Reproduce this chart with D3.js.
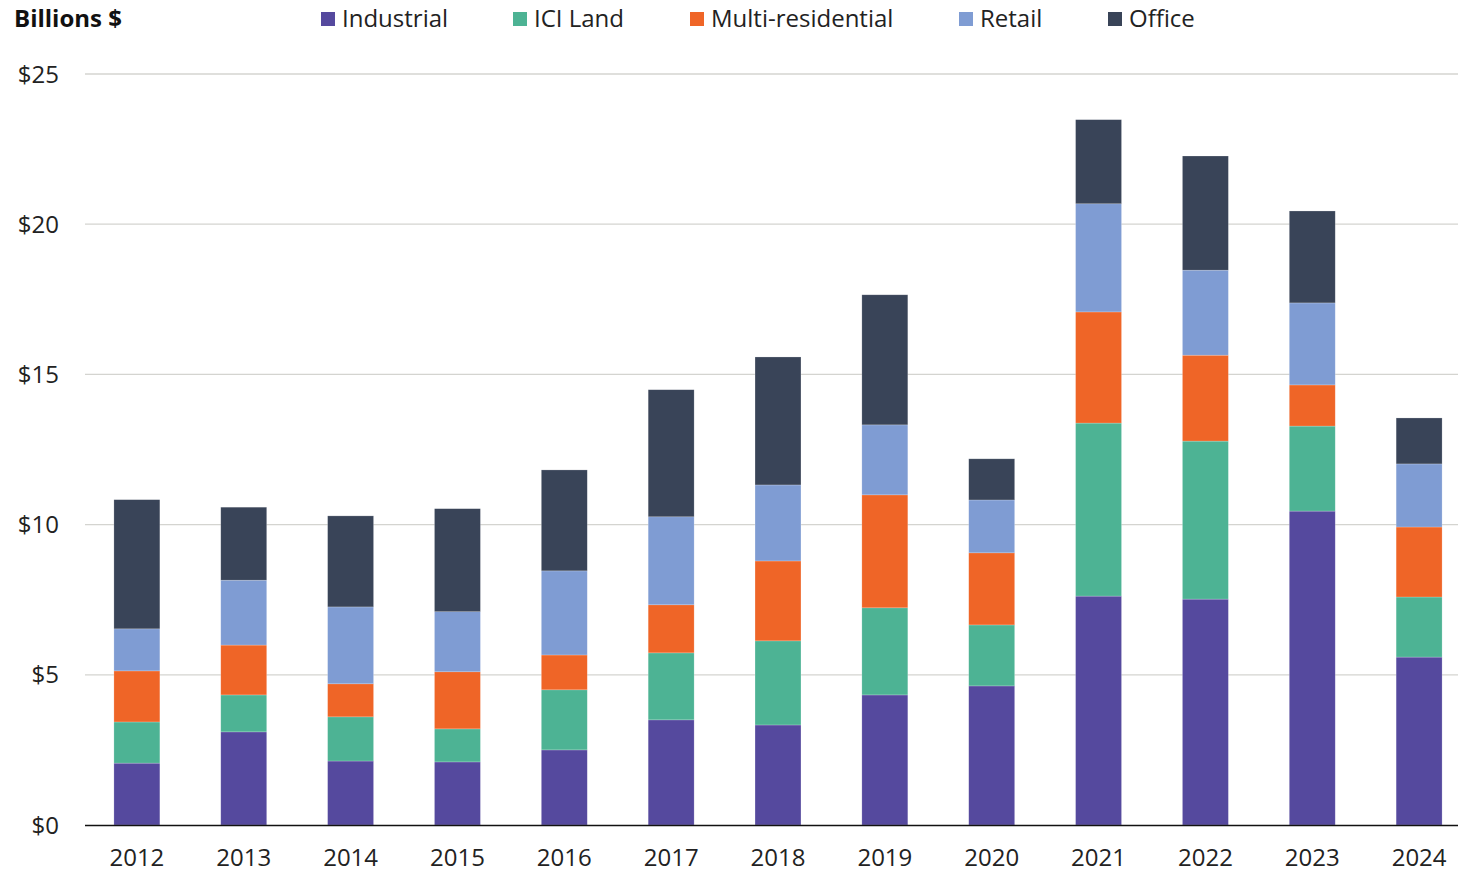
<!DOCTYPE html>
<html><head><meta charset="utf-8">
<script src="https://cdn.jsdelivr.net/npm/d3@7"></script>
<style>body{margin:0;background:#fff;}svg{display:block;font-family:"Open Sans",sans-serif;}</style>
</head><body><svg id="c" width="1458" height="872"></svg>
<script>
const years = ["2012","2013","2014","2015","2016","2017","2018","2019","2020","2021","2022","2023","2024"];
const seriesNames = ["Industrial","ICI Land","Multi-residential","Retail","Office"];
const industrial = [2.06,3.10,2.13,2.10,2.50,3.50,3.33,4.33,4.63,7.62,7.52,10.45,5.59];
const iciLand    = [1.37,1.23,1.47,1.10,2.00,2.23,2.80,2.90,2.03,5.76,5.26,2.83,2.00];
const multiRes   = [1.70,1.66,1.10,1.90,1.16,1.60,2.66,3.76,2.40,3.70,2.86,1.37,2.33];
const retail     = [1.40,2.16,2.56,2.00,2.80,2.93,2.53,2.33,1.76,3.60,2.83,2.73,2.10];
const office     = [4.30,2.43,3.03,3.43,3.36,4.23,4.26,4.33,1.37,2.80,3.80,3.06,1.53];
const yTicks = [0,5,10,15,20,25];
const colors = ["#55499e","#4db394","#ef6527","#7f9cd3","#394458"];

const svg = d3.select("#c");
const m = {left:85, right:1458, top:74, bottom:825};
const x = d3.scaleBand().domain(years).range([84, 1472]).paddingInner(0.57).paddingOuter(0.28);
const y = d3.scaleLinear().domain([0,25]).range([m.bottom, m.top]);

const table = years.map((yr,i)=>({year:yr, "Industrial":industrial[i], "ICI Land":iciLand[i], "Multi-residential":multiRes[i], "Retail":retail[i], "Office":office[i]}));
const stack = d3.stack().keys(seriesNames)(table);

// gridlines
svg.append("g").selectAll("line").data(yTicks.filter(d=>d>0)).join("line")
  .attr("x1",m.left).attr("x2",m.right).attr("y1",d=>y(d)).attr("y2",d=>y(d))
  .attr("stroke","#d4d4d0").attr("stroke-width",1.3);

// y labels
svg.append("g").selectAll("text").data(yTicks).join("text")
  .attr("x",59).attr("y",d=>y(d)).attr("dy","0.36em").attr("text-anchor","end")
  .attr("font-size",24).attr("fill","#222").text(d=>"$"+d);

// bars
svg.append("g").selectAll("g").data(stack).join("g")
  .attr("fill",(d,i)=>colors[i])
  .selectAll("rect").data(d=>d).join("rect")
  .attr("x",d=>x(d.data.year)).attr("width",x.bandwidth())
  .attr("y",d=>y(d[1])).attr("height",d=>y(d[0])-y(d[1]))
  .attr("stroke","rgba(255,255,255,0.35)").attr("stroke-width",0.6);

// baseline
svg.append("line").attr("x1",m.left).attr("x2",m.right).attr("y1",y(0)+0.5).attr("y2",y(0)+0.5)
  .attr("stroke","#111").attr("stroke-width",1.3);

// x labels
const xa = svg.append("g").attr("transform",`translate(0,${y(0)})`)
  .call(d3.axisBottom(x).tickSize(0).tickPadding(24));
xa.select(".domain").remove();
xa.selectAll("text").attr("font-size",24).attr("fill","#222").attr("font-family","Open Sans");

// title
svg.append("text").attr("x",14).attr("y",27).attr("font-size",24).attr("font-weight","bold")
  .attr("fill","#111").text("Billions $");

// legend
const legX = [321,513,690,959,1108];
const lg = svg.append("g").selectAll("g").data(seriesNames).join("g")
  .attr("transform",(d,i)=>`translate(${legX[i]},0)`);
lg.append("rect").attr("x",0).attr("y",12).attr("width",14).attr("height",14).attr("fill",(d,i)=>colors[i]);
lg.append("text").attr("x",21).attr("y",27).attr("font-size",24).attr("fill","#222").text(d=>d);
</script></body></html>
